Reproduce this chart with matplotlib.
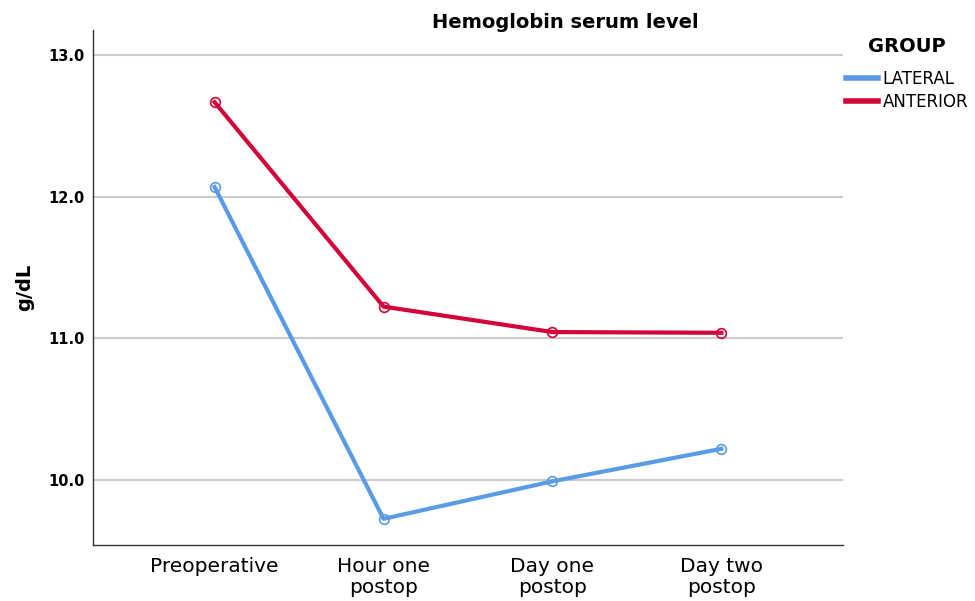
import matplotlib
matplotlib.use("Agg")
import matplotlib.pyplot as plt

categories = ["Preoperative", "Hour one\npostop", "Day one\npostop", "Day two\npostop"]
lateral = [12.07, 9.725, 9.99, 10.22]
anterior = [12.67, 11.225, 11.045, 11.04]
yticks = [10.0, 11.0, 12.0, 13.0]

plt.rcParams['font.family'] = ['DejaVu Sans']
fig = plt.figure(figsize=(9.75, 6.01), dpi=100)
ax = fig.add_axes([93/975, 1-545/601, (843-93)/975, (545-30)/601])

x = list(range(len(categories)))
c_lat = '#5A9BE6'
c_ant = '#D2043A'
l1, = ax.plot(x, lateral, color=c_lat, lw=3, marker='o', ms=7, mfc='none', mec=c_lat, mew=1.2, label='LATERAL')
l2, = ax.plot(x, anterior, color=c_ant, lw=3, marker='o', ms=7, mfc='none', mec=c_ant, mew=1.2, label='ANTERIOR')

ax.set_xlim(-0.72, 3.72)
ax.set_ylim(9.54, 13.18)
ax.set_yticks(yticks)
ax.set_yticklabels([f"{v:.1f}" for v in yticks], fontweight='bold', fontsize=10.5)
ax.set_xticks(x)
ax.set_xticklabels(categories, fontsize=14.5, linespacing=1.08)
ax.tick_params(axis='x', length=0, pad=9)
ax.tick_params(axis='y', length=0, pad=6)
ax.grid(axis='y', color='#CCCCCC', lw=1.5)
ax.set_axisbelow(True)
for s in ['top', 'right']:
    ax.spines[s].set_visible(False)
for s in ['left', 'bottom']:
    ax.spines[s].set_color('#333333')
    ax.spines[s].set_linewidth(1.0)

ax.set_ylabel('g/dL', fontweight='bold', fontsize=14, labelpad=10)
fig.text(565/975, 1-22/601, 'Hemoglobin serum level', fontweight='bold', fontsize=14, ha='center', va='center')

fig.text(907/975, 1-47/601, 'GROUP', fontweight='bold', fontsize=14, ha='center', va='center')
leg = fig.legend(handles=[l1, l2], labels=['LATERAL', 'ANTERIOR'],
                 loc='upper left', bbox_to_anchor=(846/975, 1-70/601), frameon=False,
                 fontsize=12, handlelength=1.9, handletextpad=0.3, labelspacing=0.3,
                 borderaxespad=0, borderpad=0)
for h in leg.legend_handles:
    h.set_marker('')
    h.set_linewidth(4)

fig.savefig('out.png', dpi=100)
